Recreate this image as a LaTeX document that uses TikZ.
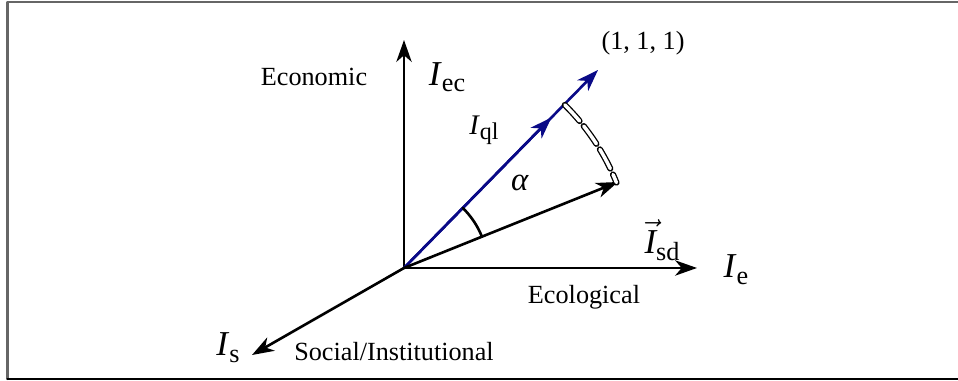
\documentclass[tikz,border=0pt]{standalone}
\usepackage{fontspec}
\setmainfont{Liberation Serif}
\usetikzlibrary{arrows.meta,calc}
\definecolor{qlblue}{RGB}{10,10,135}

\begin{document}
\begin{tikzpicture}[x=0.458pt,y=0.458pt,line cap=round,line join=round,
  >={Stealth[length=10pt,width=7pt,inset=3pt]},
  every node/.style={inner sep=0pt,font=\fontsize{12}{14}\selectfont},
  axis/.style={->,line width=1.2pt},
  big/.style={font=\fontsize{16}{18}\selectfont}]
  \useasboundingbox (0,0) rectangle (958,381);
  \draw[line width=1pt,black!60] (957.5,379) -- (7.5,379) -- (7.5,2);
  \draw[line width=1pt] (7.5,2) -- (957.5,2);
  \coordinate (O) at (404,113);
  \coordinate (ecTip) at (404,341);
  \coordinate (eTip) at (697,113);
  \coordinate (sTip) at (252,26);
  \coordinate (qlTip) at (598,311);
  \coordinate (qlMid) at ($(O)!0.76!(qlTip)$);
  \coordinate (sdTip) at (618,199);
  % axes
  \draw[axis] (O) -- (ecTip);
  \draw[axis] (O) -- (eTip);
  \draw[axis] (O) -- (sTip);
  % vectors
  \draw[->,line width=1.2pt,qlblue] (O) -- (qlTip);
  \draw[->,line width=1.2pt,qlblue] (O) -- (qlMid);
  \draw[->,line width=1.2pt] (O) -- (sdTip);
  \draw[line width=1.2pt] ($(O)+(45.6:84)$) arc[start angle=45.6,end angle=21.9,radius=84];
  \draw[double,double distance=1.6pt,line width=0.6pt,dash pattern=on 10pt off 3pt]
    ($(O)+(45.4:229)$) arc[start angle=45.4,end angle=21.9,radius=229];
  % labels
  \node (econ) at (314,304) {Economic};
  \node[big] (Iec) at (447,304) {\textit{I}\raisebox{-0.35ex}{\fontsize{12}{14}\selectfont ec}};
  \node (one) at (643,338) {(1, 1, 1)};
  \node[font=\fontsize{13}{15}\selectfont] (Iql) at (484,251) {\textit{I}\raisebox{-0.4ex}{\fontsize{11}{13}\selectfont ql}};
  \node[font=\fontsize{15}{17}\selectfont] (alpha) at (520,198) {\textit{α}};
  \node[big] (Isd) at (662,141) {$\vec{\textit{I}}$\raisebox{-0.45ex}{\fontsize{12}{14}\selectfont sd}};
  \node[big] (Ie) at (736,111) {\textit{I}\raisebox{-0.45ex}{\fontsize{12}{14}\selectfont e}};
  \node (ecol) at (584,84) {Ecological};
  \node[big] (Is) at (228,33) {\textit{I}\raisebox{-0.45ex}{\fontsize{12}{14}\selectfont s}};
  \node (social) at (394,29) {Social/Institutional};
\end{tikzpicture}
\end{document}
